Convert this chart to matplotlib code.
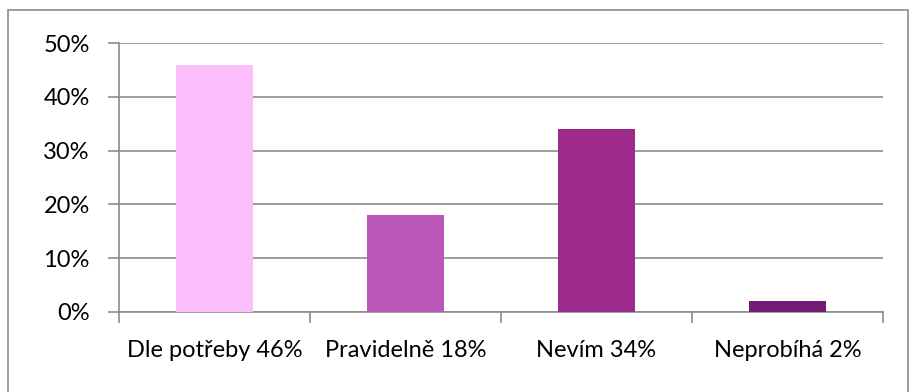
import matplotlib.pyplot as plt
from matplotlib.patches import Rectangle
from matplotlib.ticker import PercentFormatter, FixedLocator, NullFormatter

categories = ['Dle potřeby 46%', 'Pravidelně 18%', 'Nevím 34%', 'Neprobíhá 2%']
values = [46, 18, 34, 2]
colors = ['#FCBFFC', '#B857B8', '#9C2B8C', '#731C73']
yticks = [0, 10, 20, 30, 40, 50]

plt.rcParams['font.family'] = ['Lato', 'DejaVu Sans']
W, H = 910, 392
fig = plt.figure(figsize=(W / 100, H / 100), dpi=100)
ax = fig.add_axes([119 / W, 1 - 312 / H, (883 - 119) / W, (312 - 43) / H])

x = range(len(categories))
ax.bar(x, values, width=0.4, color=colors, zorder=3)

ax.set_xlim(-0.5, len(categories) - 0.5)
ax.set_ylim(0, 50)
ax.set_yticks(yticks)
ax.yaxis.set_major_formatter(PercentFormatter(decimals=0))
ax.grid(axis='y', color='#8c8c8c', linewidth=1.2, zorder=0)

# category labels centred, ticks between categories
ax.xaxis.set_major_locator(FixedLocator([i - 0.5 for i in range(len(categories) + 1)]))
ax.xaxis.set_major_formatter(NullFormatter())
ax.set_xticks(list(x), minor=True)
ax.set_xticklabels(categories, minor=True)
ax.tick_params(axis='x', which='minor', length=0, pad=20, labelsize=17)
ax.tick_params(axis='x', which='major', length=8, width=1.2, color='#8c8c8c', direction='out')
ax.tick_params(axis='y', length=8, width=1.2, color='#8c8c8c', direction='out', labelsize=17, pad=13)

for side in ['top', 'right']:
    ax.spines[side].set_visible(False)
for side in ['left', 'bottom']:
    ax.spines[side].set_color('#8c8c8c')
    ax.spines[side].set_linewidth(1.2)

# outer frame of the chart area
fig.patches.append(Rectangle((8 / W, -0.1), 900 / W, 1 - 10 / H + 0.1,
                             transform=fig.transFigure, fill=False,
                             edgecolor='#8c8c8c', linewidth=1.2))

fig.savefig('out.png', dpi=100)
